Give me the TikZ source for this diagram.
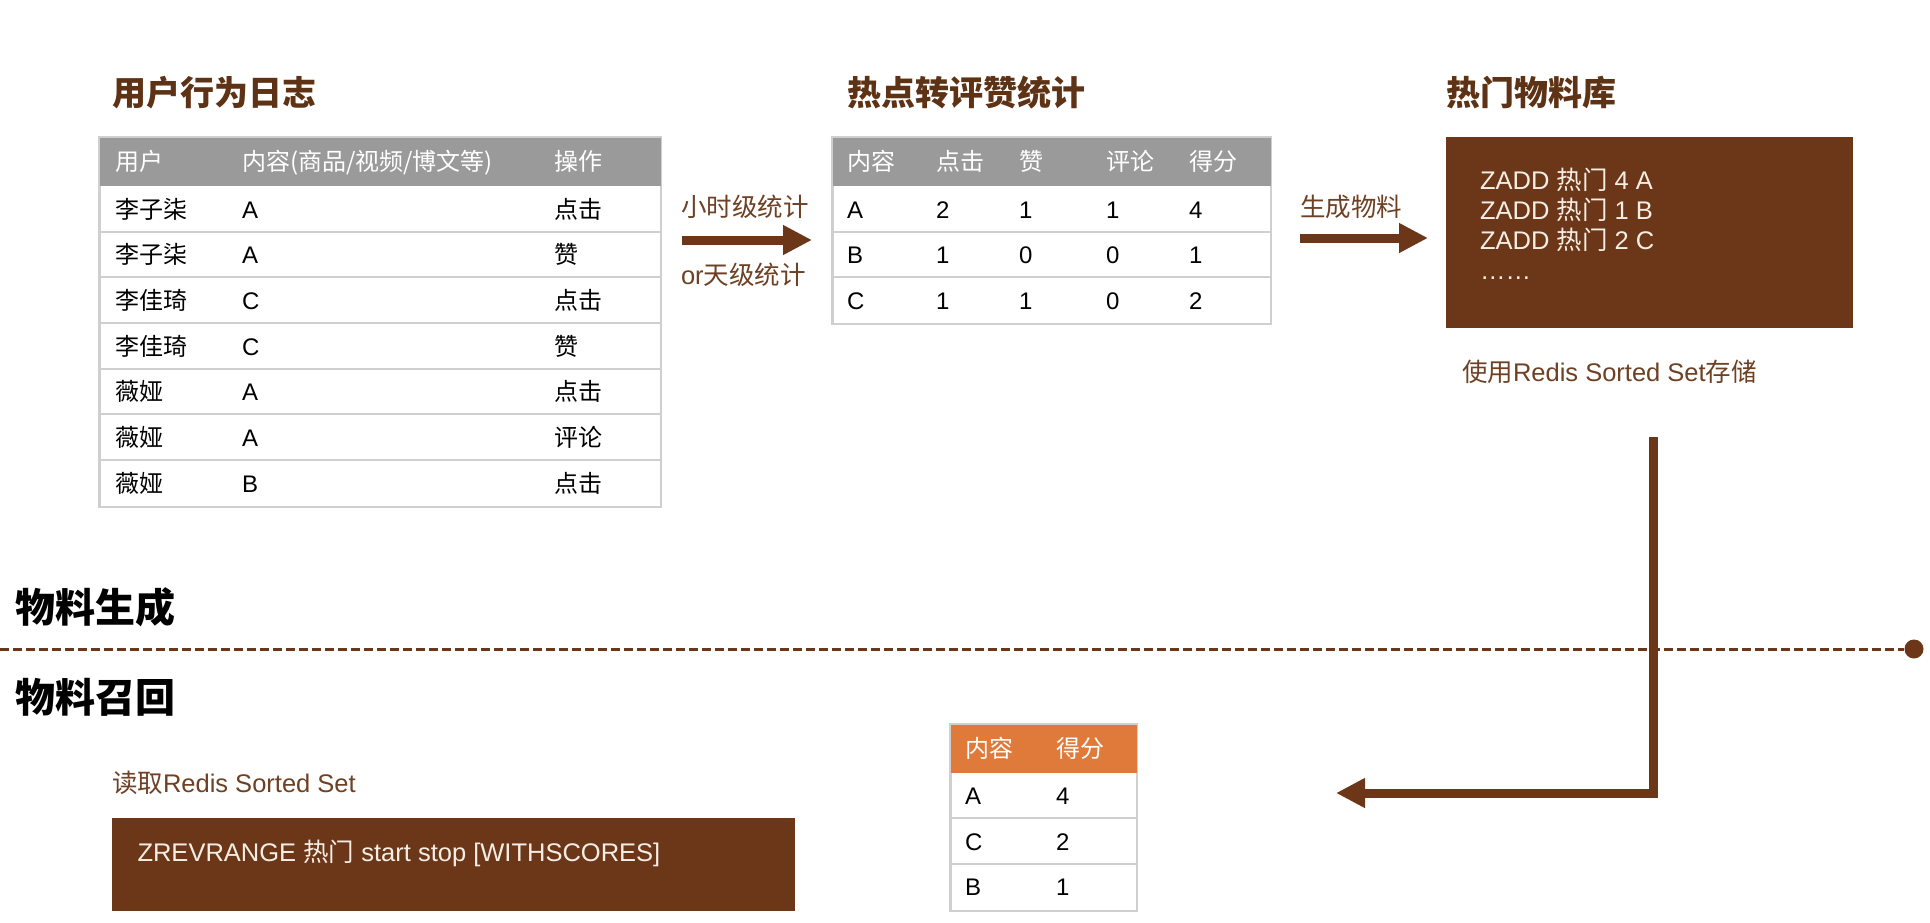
\documentclass[tikz,border=0pt]{standalone}
\usepackage{fontspec}
\setmainfont{Liberation Sans}
\newfontfamily\cjk{Noto Sans CJK SC}
\usetikzlibrary{arrows.meta,calc}
\newcommand\zh[1]{{\cjk #1}}
\definecolor{brn}{HTML}{6B3718}
\definecolor{ttl}{HTML}{5E3214}
\definecolor{cap}{HTML}{6E4124}
\definecolor{hdr}{HTML}{9A9A9A}
\definecolor{org}{HTML}{E07A3A}
\definecolor{gridc}{HTML}{CFCFCF}
\definecolor{boxtxt}{HTML}{F6EEE4}
\begin{document}
\begin{tikzpicture}[x=1pt,y=-1pt,
  txt/.style={anchor=base west,inner sep=0pt,outer sep=0pt},
  cell/.style={txt,text=black,font=\fontsize{24}{28}\selectfont},
  zcell/.style={txt,text=black,font=\cjk\fontsize{24}{28}\selectfont},
  hcell/.style={txt,text=white,font=\cjk\fontsize{24}{28}\selectfont},
  title/.style={txt,text=ttl,font=\cjk\bfseries\fontsize{34}{40}\selectfont},
  capt/.style={txt,text=cap,font=\fontsize{25.5}{30}\selectfont},
  sect/.style={txt,text=black,font=\cjk\bfseries\fontsize{40}{46}\selectfont},
  boxl/.style={txt,text=boxtxt,font=\fontsize{25.5}{30}\selectfont},
  tabframe/.style={draw=gridc,line width=1.5pt,fill=white,inner sep=0pt,anchor=north west},
  gridline/.style={draw=gridc,line width=1.5pt},
  darkbox/.style={fill=brn,draw=none,inner sep=0pt,anchor=north west},
  bigarrow/.style={draw=brn,line width=9pt,-{Triangle[length=29pt,width=28pt]}},
  divider/.style={draw=brn,line width=3pt,dash pattern=on 9pt off 4pt},
]
\useasboundingbox (0,0) rectangle (1930,922);
\fill[white] (0,0) rectangle (1930,922);

% ---------- titles ----------
\node[title] (title1) at (112,105.6) {用户行为日志};
\node[title] (title2) at (847,105.6) {热点转评赞统计};
\node[title] (title3) at (1446,105.6) {热门物料库};

% ---------- table 1 ----------
\node[tabframe,minimum width=561pt,minimum height=369pt] (t1) at (99,137) {};
\fill[hdr] (t1.north west) rectangle ($(t1.north east)+(0,49)$);
\foreach \y in {232,277,323,369,414,460} \draw[gridline] (99,\y) -- (660,\y);
\draw[gridline] (t1.north west) rectangle (t1.south east);
\node[hcell] (h1a) at (115,170.5) {用户};
\node[hcell] (h1b) at (242,170.5) {内容(商品/视频/博文等)};
\node[hcell] (h1c) at (554,170.5) {操作};
\foreach \u/\c/\o [count=\i] in {李子柒/A/点击,李子柒/A/赞,李佳琦/C/点击,李佳琦/C/赞,薇娅/A/点击,薇娅/A/评论,薇娅/B/点击}{
  \pgfmathsetmacro\yb{218+(\i-1)*45.67}
  \node[zcell] (tau\i) at (115,\yb) {\u};
  \node[cell] (tac\i) at (242,\yb) {\c};
  \node[zcell] (tao\i) at (554,\yb) {\o};
}

% ---------- table 2 ----------
\node[tabframe,minimum width=438pt,minimum height=186pt] (t2) at (832,137) {};
\fill[hdr] (t2.north west) rectangle ($(t2.north east)+(0,49)$);
\foreach \y in {232,277} \draw[gridline] (832,\y) -- (1270,\y);
\draw[gridline] (t2.north west) rectangle (t2.south east);
\node[hcell] (h2a) at (847,170.5) {内容};
\node[hcell] (h2b) at (936,170.5) {点击};
\node[hcell] (h2c) at (1019,170.5) {赞};
\node[hcell] (h2d) at (1106,170.5) {评论};
\node[hcell] (h2e) at (1189,170.5) {得分};
\foreach \k/\a/\b/\c/\d [count=\i] in {A/2/1/1/4,B/1/0/0/1,C/1/1/0/2}{
  \pgfmathsetmacro\yb{218+(\i-1)*45.67}
  \node[cell] (tb\i a) at (847,\yb) {\k};
  \node[cell] (tb\i b) at (936,\yb) {\a};
  \node[cell] (tb\i c) at (1019,\yb) {\b};
  \node[cell] (tb\i d) at (1106,\yb) {\c};
  \node[cell] (tb\i e) at (1189,\yb) {\d};
}

% ---------- arrow 1 ----------
\node[capt] (lab1) at (681,216.3) {\zh{小时级统计}};
\node[capt] (lab2) at (681,284.3) {or\zh{天级统计}};
\draw[bigarrow] ($(t1.north east)+(20,103)$) -- ($(t2.north west)+(-20,103)$);

% ---------- box 1 ----------
\node[darkbox,minimum width=407pt,minimum height=191pt] (box1) at (1446,137) {};
\node[boxl] (z1) at (1480,189) {ZADD \zh{热门} 4 A};
\node[boxl] (z2) at (1480,219) {ZADD \zh{热门} 1 B};
\node[boxl] (z3) at (1480,249) {ZADD \zh{热门} 2 C};
\node[boxl] (z4) at (1480,279) {……};
\node[capt] (cap1) at (1462,381.3) {\zh{使用}Redis Sorted Set\zh{存储}};

% ---------- arrow 2 ----------
\node[capt] (lab3) at (1300,216.3) {\zh{生成物料}};
\draw[bigarrow] ($(t2.north east)+(28,101)$) -- ($(box1.north west)+(-18,101)$);

% ---------- divider ----------
\node[sect] (sec1) at (16,622) {物料生成};
\node[sect] (sec2) at (16,712) {物料召回};
\node[circle,fill=brn,inner sep=0pt,minimum size=19pt] (dot) at (1914,649) {};
\coordinate (dstart) at (0,649);
\draw[divider] (dstart) -- (dot.west);

% ---------- return connector ----------
\coordinate (vtop) at (1653,437);
\coordinate (vbend) at (1653,793);
\coordinate (vend) at (1336,793);
\draw[draw=brn,line width=9pt,line join=miter,-{Triangle[length=29pt,width=28pt]}] (vtop) -- (vbend) -- (vend);

% ---------- recall ----------
\node[capt] (cap2) at (112,792.3) {\zh{读取}Redis Sorted Set};
\node[darkbox,minimum width=683pt,minimum height=93pt] (box2) at (112,818) {};
\node[boxl] (zr) at (137.5,861.3) {ZREVRANGE \zh{热门} start stop [WITHSCORES]};

% ---------- table 3 ----------
\node[tabframe,minimum width=186pt,minimum height=186pt] (t3) at (950,724) {};
\fill[org] (t3.north west) rectangle ($(t3.north east)+(0,49)$);
\foreach \y in {818,864} \draw[gridline] (950,\y) -- (1136,\y);
\draw[gridline] (t3.north west) rectangle (t3.south east);
\node[hcell] (h3a) at (965,757.5) {内容};
\node[hcell] (h3b) at (1056,757.5) {得分};
\foreach \k/\s [count=\i] in {A/4,C/2,B/1}{
  \pgfmathsetmacro\yb{804.5+(\i-1)*45.67}
  \node[cell] (tc\i a) at (965,\yb) {\k};
  \node[cell] (tc\i b) at (1056,\yb) {\s};
}
\end{tikzpicture}
\end{document}
